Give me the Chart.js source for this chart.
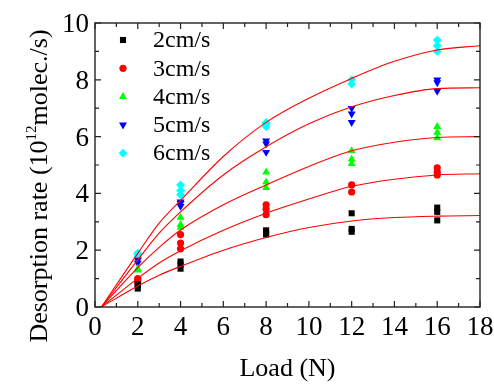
<!DOCTYPE html>
<html>
<head>
<meta charset="utf-8">
<script src="https://cdn.jsdelivr.net/npm/chart.js@4.4.1/dist/chart.umd.min.js"></script>
<style>
  html, body { margin: 0; padding: 0; background: #fff; }
  #wrap { width: 494px; height: 384px; }
</style>
</head>
<body>
<div id="wrap"><canvas id="chart" width="494" height="384"></canvas></div>
<script>
const loads = [2, 4, 8, 12, 16];
const speedLabels = ["2cm/s", "3cm/s", "4cm/s", "5cm/s", "6cm/s"];

// repeated runs at each load, one inner list per load
const rate2cm = [[0.65, 0.75, 0.8], [1.35, 1.5, 1.6], [2.55, 2.6, 2.7], [2.65, 2.75, 3.3], [3.05, 3.35, 3.5]];
const rate3cm = [[0.85, 0.95, 1.0], [2.05, 2.25, 2.55], [3.25, 3.45, 3.6], [4.05, 4.3], [4.65, 4.75, 4.9]];
const rate4cm = [[1.3, 1.35], [2.8, 2.9, 3.15], [4.2, 4.4, 4.75], [5.05, 5.2, 5.5], [5.95, 6.15, 6.35]];
const rate5cm = [[1.55, 1.65], [3.55, 3.65, 3.7], [5.45, 5.75, 5.85], [6.5, 6.8, 7.0], [7.6, 7.9, 8.0]];
const rate6cm = [[1.75, 1.85, 1.9], [3.95, 4.1, 4.3], [6.35, 6.45, 6.5], [7.85, 8.0], [9.0, 9.2, 9.4]];

// fitted curves
const fitLoad = [0.3, 2, 3, 4, 6, 8, 10, 12, 14, 16, 18];
const fit2cm = [0, 0.74, 1.12, 1.43, 2.0, 2.45, 2.8, 3.03, 3.15, 3.2, 3.22];
const fit3cm = [0, 1.01, 1.55, 1.98, 2.7, 3.3, 3.8, 4.25, 4.5, 4.65, 4.69];
const fit4cm = [0, 1.39, 2.1, 2.71, 3.6, 4.3, 4.95, 5.5, 5.8, 5.97, 6.0];
const fit5cm = [0, 1.66, 2.6, 3.35, 4.65, 5.64, 6.45, 7.05, 7.45, 7.69, 7.72];
const fit6cm = [0, 1.89, 2.95, 3.75, 5.3, 6.5, 7.35, 8.05, 8.65, 9.05, 9.2];

const xTicks = [0, 2, 4, 6, 8, 10, 12, 14, 16, 18];
const yTicks = [0, 2, 4, 6, 8, 10];

const serif = "Liberation Serif";
const colors = ["#000000", "#ff0000", "#00ff00", "#0000ff", "#00ffff"];
const styles = [
  { pointStyle: "rect", radius: 4.3, rotation: 0 },
  { pointStyle: "circle", radius: 3.6, rotation: 0 },
  { pointStyle: "triangle", radius: 4.6, rotation: 0 },
  { pointStyle: "triangle", radius: 4.6, rotation: 180 },
  { pointStyle: "rectRot", radius: 4.4, rotation: 0 },
];

const rates = [rate2cm, rate3cm, rate4cm, rate5cm, rate6cm];
const fits = [fit2cm, fit3cm, fit4cm, fit5cm, fit6cm];

function toPoints(runs) {
  const pts = [];
  runs.forEach((vals, i) => vals.forEach((v) => pts.push({ x: loads[i], y: v })));
  return pts;
}

const datasets = [];
fits.forEach((f) => {
  datasets.push({
    type: "line",
    data: f.map((v, i) => ({ x: fitLoad[i], y: v })),
    borderColor: "#ff0000",
    borderWidth: 1.1,
    pointRadius: 0,
    fill: false,
    cubicInterpolationMode: "monotone",
  });
});
rates.forEach((r, i) => {
  datasets.push({
    type: "scatter",
    label: speedLabels[i],
    data: toPoints(r),
    backgroundColor: colors[i],
    borderColor: colors[i],
    borderWidth: 0,
    pointStyle: styles[i].pointStyle,
    pointRadius: styles[i].radius,
    rotation: styles[i].rotation,
  });
});

function drawMarker(ctx, style, color, x, y) {
  ctx.save();
  ctx.fillStyle = color;
  ctx.beginPath();
  const r = style.radius;
  if (style.pointStyle === "rect") {
    const s = r * Math.SQRT1_2;
    ctx.rect(x - s, y - s, 2 * s, 2 * s);
  } else if (style.pointStyle === "circle") {
    ctx.arc(x, y, r, 0, Math.PI * 2);
  } else if (style.pointStyle === "rectRot") {
    ctx.moveTo(x, y - r);
    ctx.lineTo(x + r, y);
    ctx.lineTo(x, y + r);
    ctx.lineTo(x - r, y);
  } else {
    const d = style.rotation ? -1 : 1;
    ctx.moveTo(x, y - d * r);
    ctx.lineTo(x + r * 0.866, y + d * r * 0.5);
    ctx.lineTo(x - r * 0.866, y + d * r * 0.5);
  }
  ctx.closePath();
  ctx.fill();
  ctx.restore();
}

// box frame with inward ticks, tick labels, axis titles and the inset legend
const framePlugin = {
  id: "frame",
  afterDraw(chart) {
    const { ctx, chartArea: a, scales } = chart;
    ctx.save();
    ctx.strokeStyle = "#222";
    ctx.lineWidth = 1.4;
    ctx.strokeRect(a.left, a.top, a.right - a.left, a.bottom - a.top);
    ctx.lineWidth = 1.2;
    ctx.beginPath();
    for (let v = 0; v <= 18; v++) {
      const px = scales.x.getPixelForValue(v);
      const len = v % 2 === 0 ? 6 : 4;
      ctx.moveTo(px, a.bottom); ctx.lineTo(px, a.bottom - len);
      ctx.moveTo(px, a.top); ctx.lineTo(px, a.top + len);
    }
    for (let v = 0; v <= 10; v++) {
      const py = scales.y.getPixelForValue(v);
      const len = v % 2 === 0 ? 6 : 4;
      ctx.moveTo(a.left, py); ctx.lineTo(a.left + len, py);
      ctx.moveTo(a.right, py); ctx.lineTo(a.right - len, py);
    }
    ctx.stroke();

    ctx.fillStyle = "#000";
    ctx.font = "27px " + serif;
    ctx.textBaseline = "alphabetic";
    ctx.textAlign = "center";
    xTicks.forEach((v) => {
      ctx.fillText(String(v), scales.x.getPixelForValue(v), a.bottom + 28);
    });
    ctx.textAlign = "right";
    yTicks.forEach((v) => {
      ctx.fillText(String(v), a.left - 6, scales.y.getPixelForValue(v) + 9);
    });

    // axis titles
    ctx.font = "26px " + serif;
    ctx.textAlign = "center";
    ctx.fillText("Load (N)", (a.left + a.right) / 2, 376);

    ctx.save();
    ctx.translate(47, 186);
    ctx.rotate(-Math.PI / 2);
    const part1 = "Desorption rate (10";
    const sup = "12";
    const part2 = "molec./s)";
    ctx.font = "26px " + serif;
    const w1 = ctx.measureText(part1).width;
    const w3 = ctx.measureText(part2).width;
    ctx.font = "15px " + serif;
    const w2 = ctx.measureText(sup).width;
    const x0 = -(w1 + w2 + w3) / 2;
    ctx.textAlign = "left";
    ctx.font = "26px " + serif;
    ctx.fillText(part1, x0, 0);
    ctx.font = "15px " + serif;
    ctx.fillText(sup, x0 + w1, -11);
    ctx.font = "26px " + serif;
    ctx.fillText(part2, x0 + w1 + w2, 0);
    ctx.restore();

    // legend
    ctx.font = "24px " + serif;
    ctx.textAlign = "left";
    ctx.textBaseline = "middle";
    speedLabels.forEach((lab, i) => {
      const y = 40 + i * 28.3;
      drawMarker(ctx, styles[i], colors[i], 123, y);
      ctx.fillStyle = "#000";
      ctx.fillText(lab, 153, y + 1);
    });
    ctx.restore();
  },
};

new Chart(document.getElementById("chart"), {
  type: "scatter",
  data: { datasets },
  options: {
    responsive: false,
    animation: false,
    devicePixelRatio: 1,
    layout: { padding: { left: 0, top: 23, right: 14, bottom: 0 } },
    plugins: { legend: { display: false }, tooltip: { enabled: false } },
    scales: {
      x: {
        type: "linear",
        min: 0,
        max: 18,
        afterFit: (s) => { s.height = 77; },
        grid: { display: false, drawTicks: false },
        border: { display: false },
        ticks: { display: false },
      },
      y: {
        type: "linear",
        min: 0,
        max: 10,
        afterFit: (s) => { s.width = 95; },
        grid: { display: false, drawTicks: false },
        border: { display: false },
        ticks: { display: false },
      },
    },
  },
  plugins: [framePlugin],
});
</script>
</body>
</html>
